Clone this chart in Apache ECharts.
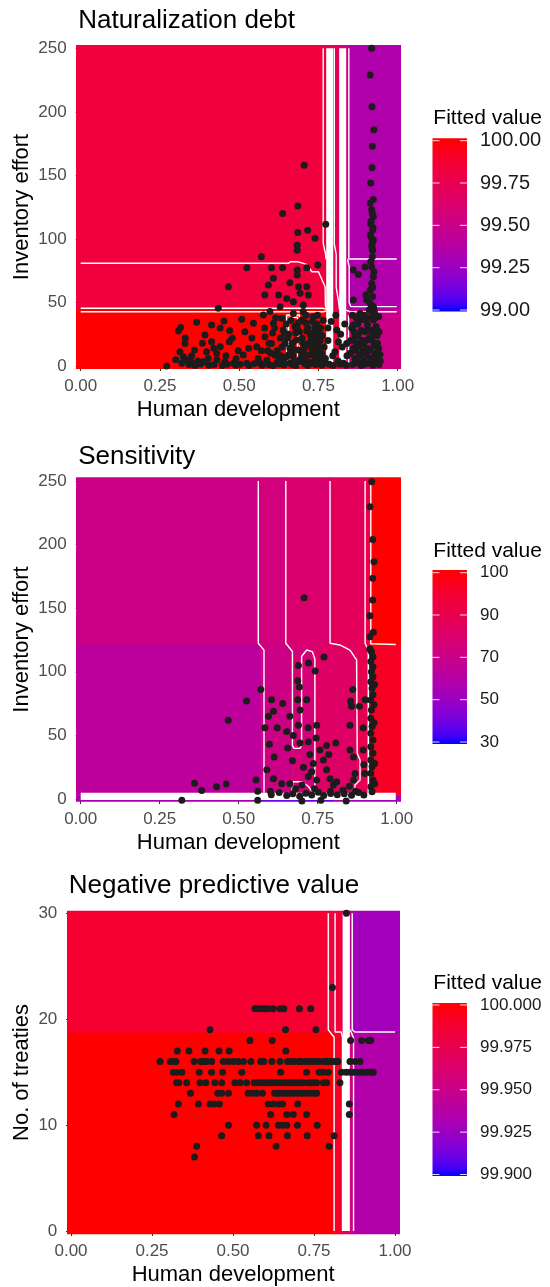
<!DOCTYPE html>
<html><head><meta charset="utf-8">
<script src="https://cdn.jsdelivr.net/npm/echarts@6/dist/echarts.min.js"></script>
<style>html,body{margin:0;padding:0;background:#fff}#c{width:550px;height:1287px}</style>
</head><body><div id="c"></div>
<script>
// ---------------- text ----------------
const panelTitles = ['Naturalization debt', 'Sensitivity', 'Negative predictive value'];
const xAxisTitle = 'Human development';
const yAxisTitles = ['Inventory effort', 'Inventory effort', 'No. of treaties'];
const legendTitle = 'Fitted value';

// ---------------- ticks ----------------
const xTicks = [0, 0.25, 0.5, 0.75, 1];
const yTicksEffort = [0, 50, 100, 150, 200, 250];
const yTicksTreaties = [0, 10, 20, 30];

// legend breaks (evenly spaced along the colour bar) and labels
const ndBreaks = [99, 99.25, 99.5, 99.75, 100];
const ndLabels = ['99.00', '99.25', '99.50', '99.75', '100.00'];
const seBreaks = [30, 50, 70, 90, 100];
const seLabels = ['30', '50', '70', '90', '100'];
const npBreaks = [99.9, 99.925, 99.95, 99.975, 100];
const npLabels = ['99.900', '99.925', '99.950', '99.975', '100.000'];

// ---------------- fitted surfaces: [x0, x1, y0, y1, value] ----------------
const ndTiles = [
  [-0.05, 0.775, 44, 260, 99.83], [-0.05, 0.775, -10, 44, 100],
  [0.775, 0.797, 44, 260, 99.78], [0.775, 0.797, -10, 44, 99.95],
  [0.797, 0.816, 44, 260, 99.72], [0.797, 0.816, -10, 44, 99.85],
  [0.816, 0.845, 44, 260, 99.55], [0.816, 0.845, -10, 44, 99.7],
  [0.845, 1.05, 44, 260, 99.35], [0.845, 1.05, -10, 44, 99.5]
];
const seTiles = [
  [-0.05, 0.562, 121, 260, 70], [0.562, 0.649, 121, 260, 74],
  [0.649, 0.789, 121, 260, 79.6], [0.789, 0.9, 121, 260, 86],
  [0.9, 0.918, 121, 260, 91.2], [0.918, 1.05, 121, 260, 100],
  [-0.05, 0.571, 2.5, 121, 63.6], [0.571, 0.67, 2.5, 121, 71.6],
  [0.67, 0.741, 2.5, 121, 76], [0.741, 0.875, 2.5, 121, 82.8],
  [0.875, 0.91, 2.5, 121, 90], [0.91, 1.05, 2.5, 121, 96.8],
  [-0.05, 0.57, -10, 2.5, 55.6], [0.57, 0.8, -10, 2.5, 39.6], [0.8, 1.05, -10, 2.5, 54]
];
const npTiles = [
  [-0.05, 0.797, 18.7, 40, 99.988], [-0.05, 0.812, -5, 18.7, 100],
  [0.797, 0.838, 18.7, 40, 99.984], [0.812, 0.838, -5, 18.7, 99.99],
  [0.838, 0.861, 18.7, 40, 99.96], [0.838, 0.861, -5, 18.7, 99.97],
  [0.861, 0.872, 18.7, 40, 99.945], [0.861, 0.872, -5, 18.7, 99.955],
  [0.872, 1.05, 18.7, 40, 99.928], [0.872, 1.05, -5, 18.7, 99.936]
];

// ---------------- contour lines ----------------
const ndContours = [
  [[0, 80.8], [0.655, 80.8], [0.662, 82], [0.686, 82], [0.713, 80], [0.729, 74.2], [0.75, 74.2], [0.771, 62.4], [0.772, 47], [0.776, 45]],
  [[0, 45.4], [0.765, 45.4], [0.776, 44.6]],
  [[0, 42.7], [0.765, 42.7], [0.776, 43.4]],
  [[0.765, 250], [0.765, 96.5], [0.772, 88.7], [0.774, 84]],
  [[0.65, 0], [0.65, 40.1], [0.69, 40.1], [0.69, 0]],
  [[0.656, 0], [0.656, 38.4], [0.684, 38.4], [0.684, 0]],
  [[0.8, 250], [0.8, 96], [0.806, 88], [0.806, 62], [0.814, 50], [0.816, 45]],
  [[0.846, 250], [0.846, 84.2], [0.997, 84.2]],
  [[0.842, 84], [0.847, 78], [0.847, 50], [0.852, 46.7], [0.997, 46.7]],
  [[0.837, 44], [0.85, 42.7], [0.997, 42.7]],
  [[0.845, 40], [0.845, 0]]
];
const ndBands = [[[0.7855, 250], [0.7855, 0]], [[0.8265, 250], [0.8265, 0]]];

const seContours = [
  [[0.562, 250], [0.562, 122.4], [0.58, 117], [0.58, 5]],
  [[0.649, 250], [0.649, 122.4], [0.67, 116], [0.67, 42], [0.675, 39.8], [0.694, 39.8], [0.699, 42], [0.699, 112], [0.715, 117.1], [0.733, 115.8], [0.741, 110], [0.741, 5]],
  [[0.668, 5], [0.672, 13.6], [0.7, 13.6], [0.72, 10], [0.735, 5]],
  [[0.789, 250], [0.789, 122.4], [0.82, 121.1], [0.852, 117.1], [0.873, 109.3], [0.875, 35.9], [0.884, 30.7], [0.884, 14.9], [0.868, 11], [0.868, 5]],
  [[0.9, 250], [0.9, 122.4], [0.91, 117], [0.91, 5]],
  [[0.918, 250], [0.918, 122], [0.922, 121.5], [0.997, 121.5]]
];
const seBands = [[[0, 2.1], [0.997, 2.1]]];

const npContours = [
  [[0.794, 30], [0.794, 19], [0.812, 18.3], [0.812, 0]],
  [[0.815, 30], [0.815, 18.8], [0.834, 18.8], [0.838, 18.3], [0.838, 0]],
  [[0.868, 30], [0.868, 19], [0.876, 18.8], [1, 18.8]],
  [[0.862, 19], [0.872, 18.2], [0.872, 0]]
];
const npBands = [[[0.8495, 30], [0.8495, 0]]];

// ---------------- observations ----------------
const ndPoints = [
  [0.918,250],[0.913,229],[0.919,204],[0.925,186],[0.92,173],[0.919,156],[0.915,144],[0.923,131],[0.913,128],[0.918,123],
  [0.923,117.5],[0.915,112],[0.921,107],[0.913,103],[0.923,99],[0.918,95],[0.921,91],[0.92,120],[0.916,114],[0.922,109],[0.917,101],[0.92,97],[0.919,93],
  [0.705,158],[0.685,126],[0.637,120],[0.685,105],[0.716,106.8],[0.739,100.5],[0.683,95],[0.683,91],[0.773,111.5],[0.57,86],
  [0.524,77.4],[0.602,77.4],[0.637,77.4],[0.683,75.5],[0.713,77.4],[0.748,79.5],[0.466,62.4],[0.592,63.7],[0.608,69],[0.66,65.6],
  [0.683,71.6],[0.687,62.4],[0.713,62.4],[0.718,55.9],[0.692,57.2],[0.581,55.9],[0.624,55.9],[0.65,53.2],[0.671,50.6],[0.702,48],
  [0.86,75.5],[0.876,72],[0.897,78],[0.918,78],[0.923,70.3],[0.918,65],[0.913,59.8],[0.921,54.6],[0.9,55.9],[0.902,51.9],[0.86,51.9],
  [0.92,86],[0.915,82],[0.925,74],[0.921,62],[0.917,48],[0.925,45],
  [0.308,27.5],[0.315,30.2],[0.329,17.8],[0.313,11.3],[0.324,7.3],[0.334,4.7],[0.319,2.1],[0.271,0],[0.359,12.6],[0.366,34.4],
  [0.387,3.4],[0.392,24.4],[0.397,11.3],[0.413,32.3],[0.413,19.1],[0.429,10],[0.434,45.4],[0.44,15.2],[0.452,35.4],[0.455,3.4],
  [0.469,19.1],[0.482,2.1],[0.508,36.7],[0.513,8.7],[0.524,2.1],[0.545,33.6],[0.555,15.2],[0.566,2.1],[0.576,40.1],[0.581,23.1],
  [0.587,4.7],[0.597,42.8],[0.602,17.8],[0.608,33.6],[0.613,8.7],[0.618,2.1],[0.629,46.7],[0.634,37.5],[0.639,28.3],[0.645,17.8],
  [0.65,7.3],[0.66,2.1],[0.671,41.4],[0.676,31],[0.681,20.5],[0.687,12.6],[0.692,3.4],[0.697,36.2],[0.702,42.8],[0.713,27.5],
  [0.718,17.8],[0.723,8.7],[0.729,2.1],[0.734,38.8],[0.739,30.2],[0.745,23.1],[0.75,15.2],[0.755,6],[0.771,2.1],[0.802,11.3],
  [0.808,28.3],[0.813,19.1],[0.829,2.1],[0.839,17.8],[0.85,10],[0.86,32.3],[0.865,23.1],[0.871,4.7],[0.876,2.1],[0.892,17.8],
  [0.897,27],[0.902,8.7],[0.907,2.1],[0.913,12.6],[0.918,20.5],[0.923,36.2],[0.928,28.3],[0.934,4.7],[0.939,2.1],[0.923,46.7],
  [0.918,42.8],[0.913,49.3],[0.881,41.4],[0.881,36.2],
  [0.62,12],[0.63,22],[0.655,25],[0.66,14],[0.67,8],[0.69,27],[0.7,18],[0.705,10],[0.71,34],[0.725,24],[0.73,13],[0.74,5],
  [0.745,33],[0.75,28],[0.755,20],[0.76,10],[0.765,36],[0.735,16],[0.69,5],[0.64,4],[0.6,10],[0.56,6],[0.53,14],[0.49,6],
  [0.47,28],[0.43,5],[0.35,8],[0.33,22],[0.37,4],[0.3,5],
  [0.855,30],[0.86,14],[0.87,38],[0.875,24],[0.88,8],[0.885,28],[0.89,12],[0.895,40],[0.905,32],[0.91,22],[0.915,6],[0.92,28],
  [0.925,16],[0.93,10],[0.935,24],[0.94,14],[0.945,4],[0.9,20],[0.93,38],[0.91,44],[0.87,18],[0.865,6],
  [0.342,1.2],[0.361,0.4],[0.378,1.6],[0.404,0.6],[0.421,1.1],[0.447,0.3],[0.462,1.4],[0.489,0.5],[0.503,1.3],[0.531,0.4],
  [0.547,1.7],[0.572,0.6],[0.593,1.2],[0.607,0.2],[0.626,1.5],[0.641,0.7],[0.667,1.1],[0.679,0.3],[0.708,1.6],[0.716,0.4],
  [0.742,1.2],[0.761,0.6],[0.784,1.4],[0.797,0.4],[0.818,1.3],[0.838,0.5],[0.858,1.2],[0.884,0.4],[0.896,1.3],[0.922,0.6],[0.941,1.1],
  [0.58,30],[0.59,12],[0.605,26],[0.615,38],[0.625,5],[0.635,15],[0.648,33],[0.652,22],[0.663,36],[0.668,18],[0.674,4],[0.678,26],
  [0.686,34],[0.694,12],[0.699,22],[0.707,5],[0.711,40],[0.716,30],[0.721,3],[0.727,20],[0.731,35],[0.736,9],[0.742,18],[0.747,40],
  [0.752,10],[0.757,30],[0.762,24],[0.768,15],[0.772,6],[0.758,3],[0.744,13],[0.733,26],[0.709,15],[0.697,8],[0.683,30],[0.672,13],
  [0.657,9],[0.643,26],[0.631,8],[0.611,30],[0.594,18],[0.57,12],[0.54,22],[0.518,27],[0.497,12],[0.478,22],[0.458,8],[0.44,30],
  [0.42,14],[0.402,6],[0.384,18],[0.349,3],
  [0.852,20],[0.857,40],[0.862,27],[0.868,12],[0.874,33],[0.879,16],[0.887,20],[0.893,4],[0.9,36],[0.904,14],[0.908,28],[0.912,38],
  [0.917,2],[0.921,24],[0.927,8],[0.932,31],[0.936,18],[0.941,27],[0.944,9],[0.94,39],[0.927,42],
  [0.78,20],[0.79,35],[0.795,8],[0.805,40],[0.812,4],[0.82,25],[0.825,15],[0.833,33],[0.84,8],[0.78,30]
];

const sePoints = [
  [0.707,158.3],[0.921,249.5],[0.915,229.8],[0.924,204],[0.928,186.6],[0.924,173.5],[0.924,156.4],[0.915,144],[0.926,131],[0.915,127.6],
  [0.92,115.8],[0.925,111.9],[0.918,108],[0.925,104],[0.92,100],[0.925,96.2],[0.918,92.2],[0.922,87],[0.918,77.8],[0.92,70],
  [0.918,63.4],[0.922,56.9],[0.918,51.6],[0.925,46.4],[0.918,41.1],[0.925,35.9],[0.918,30.7],[0.922,25.4],[0.918,20.2],[0.925,14.9],
  [0.918,9.7],[0.922,5.8],[0.925,82],[0.915,118],
  [0.689,105],[0.721,107],[0.742,100.6],[0.77,111.6],[0.687,93],[0.692,88],[0.57,86],[0.525,77],[0.604,78],[0.639,75],
  [0.687,78],[0.715,78],[0.467,62],[0.594,65],[0.61,69],[0.662,65],[0.694,70],[0.689,58],[0.72,56],[0.747,58],
  [0.622,56],[0.583,56],[0.652,53],[0.673,50],[0.597,43],[0.694,44],[0.72,45],[0.778,42],[0.807,44],[0.852,58],
  [0.861,86],[0.854,77],[0.857,73],[0.882,73],[0.9,78],[0.894,56],[0.852,38.5],[0.863,33],[0.868,20],[0.863,15],
  [0.894,38.5],[0.896,27],[0.899,20],[0.612,33],[0.589,23],[0.555,15],[0.61,16],[0.636,12],[0.662,12],[0.725,35],
  [0.736,28],[0.731,21.5],[0.747,15],[0.757,38.5],[0.768,30.7],[0.778,23],[0.789,16],[0.8,11],[0.81,13.6],[0.83,7],
  [0.705,25],[0.72,17.6],[0.7,11],[0.36,12.3],[0.383,6.6],[0.43,9.7],[0.46,11.8],[0.56,6],[0.6,6],[0.32,-1],
  [0.56,-1],[0.7,-1.5],[0.76,-1],[0.84,-1.5],[0.68,8],[0.74,8],[0.79,6],[0.87,6],[0.85,10],[0.655,40],
  [0.67,30],[0.745,48],[0.785,35],[0.928,60],[0.928,74],[0.93,90],[0.93,28],[0.93,12],
  [0.603,3.4],[0.628,5.2],[0.652,2.8],[0.671,4.1],[0.693,2.2],[0.712,4.6],[0.731,3.1],[0.752,5.4],[0.769,2.7],[0.791,4.4],
  [0.812,3.3],[0.834,4.2],[0.857,2.9],[0.879,5.1],[0.896,3.2]
];

const npPoints = [
  [0.807,23],
  [0.568,21],[0.578,21],[0.588,21],[0.599,21],[0.609,21],[0.624,21],[0.645,21],[0.657,21],[0.705,21],[0.74,21],
  [0.429,19],[0.662,19],[0.756,19],
  [0.552,18],[0.621,18],[0.863,18],[0.897,18],[0.918,18],[0.925,18],
  [0.328,17],[0.364,17],[0.414,17],[0.457,17],[0.488,17],[0.663,17],
  [0.275,16],[0.306,16],[0.316,16],[0.324,16],[0.38,16],[0.4,16],[0.408,16],[0.419,16],[0.434,16],[0.47,16],[0.486,16],
  [0.501,16],[0.516,16],[0.532,16],[0.555,16],[0.585,16],[0.595,16],[0.62,16],[0.645,16],[0.668,16],[0.68,16],[0.689,16],
  [0.703,16],[0.711,16],[0.724,16],[0.733,16],[0.744,16],[0.756,16],[0.765,16],[0.779,16],[0.787,16],[0.795,16],[0.805,16],
  [0.814,16],[0.823,16],[0.861,16],[0.877,16],[0.892,16],
  [0.316,15],[0.326,15],[0.342,15],[0.396,15],[0.434,15],[0.468,15],[0.527,15],[0.647,15],[0.727,15],[0.766,15],[0.779,15],
  [0.794,15],[0.835,15],[0.849,15],[0.861,15],[0.871,15],[0.882,15],[0.892,15],[0.902,15],[0.913,15],[0.925,15],[0.933,15],
  [0.326,14],[0.333,14],[0.357,14],[0.398,14],[0.416,14],[0.444,14],[0.465,14],[0.506,14],[0.522,14],[0.542,14],[0.565,14],
  [0.575,14],[0.583,14],[0.592,14],[0.601,14],[0.609,14],[0.617,14],[0.63,14],[0.637,14],[0.645,14],[0.657,14],[0.666,14],
  [0.674,14],[0.683,14],[0.691,14],[0.699,14],[0.709,14],[0.717,14],[0.733,14],[0.74,14],[0.748,14],[0.758,14],[0.779,14],
  [0.789,14],[0.83,14],
  [0.369,13],[0.453,13],[0.465,13],[0.486,13],[0.547,13],[0.561,13],[0.573,13],[0.591,13],[0.628,13],[0.637,13],[0.645,13],
  [0.655,13],[0.666,13],[0.676,13],[0.686,13],[0.697,13],[0.707,13],[0.717,13],[0.729,13],[0.74,13],[0.751,13],[0.758,13],
  [0.331,12],[0.393,12],[0.429,12],[0.441,12],[0.458,12],[0.609,12],[0.624,12],[0.64,12],[0.653,12],[0.7,12],[0.859,12],
  [0.318,11],[0.616,11],[0.666,11],[0.686,11],[0.727,11],[0.859,11],
  [0.486,10],[0.573,10],[0.602,10],[0.64,10],[0.653,10],[0.666,10],[0.699,10],[0.76,10],
  [0.465,9],[0.578,9],[0.611,9],[0.668,9],[0.729,9],[0.812,9],
  [0.388,8],[0.633,8],[0.797,8],
  [0.381,7],
  [0.85,30]
];

// ---------------- colour scale (ggplot gradient blue -> red, Lab interpolation) ----------------
const FONT = '"Liberation Sans", Arial, sans-serif';
function lin(c){c/=255;return c<=0.04045?c/12.92:Math.pow((c+0.055)/1.055,2.4);}
function gam(c){c=Math.max(0,Math.min(1,c));return Math.round(255*(c<=0.0031308?12.92*c:1.055*Math.pow(c,1/2.4)-0.055));}
const WX=0.95047, WZ=1.08883;
function toLab(r,g,b){
  const R=lin(r),G=lin(g),B=lin(b);
  const X=0.4124564*R+0.3575761*G+0.1804375*B, Y=0.2126729*R+0.7151522*G+0.0721750*B, Z=0.0193339*R+0.1191920*G+0.9503041*B;
  const f=t=>t>0.008856?Math.cbrt(t):(7.787*t+16/116);
  const fx=f(X/WX), fy=f(Y), fz=f(Z/WZ);
  return [116*fy-16, 500*(fx-fy), 200*(fy-fz)];
}
function fromLab(L,a,b){
  const fy=(L+16)/116, fx=fy+a/500, fz=fy-b/200;
  const fi=t=>t*t*t>0.008856?t*t*t:(t-16/116)/7.787;
  const X=WX*fi(fx), Y=fi(fy), Z=WZ*fi(fz);
  const R=3.2404542*X-1.5371385*Y-0.4985314*Z, G=-0.9692660*X+1.8760108*Y+0.0415560*Z, B=0.0556434*X-0.2040259*Y+1.0572252*Z;
  return 'rgb('+gam(R)+','+gam(G)+','+gam(B)+')';
}
const LO=toLab(0,0,255), HI=toLab(255,0,0);
function gradColor(p){p=Math.max(0,Math.min(1,p));return fromLab(LO[0]+(HI[0]-LO[0])*p, LO[1]+(HI[1]-LO[1])*p, LO[2]+(HI[2]-LO[2])*p);}
function posOn(v, br){
  const n=br.length-1;
  if(v<=br[0]) return 0; if(v>=br[n]) return 1;
  for(let i=0;i<n;i++){ if(v<=br[i+1]) return (i+(v-br[i])/(br[i+1]-br[i]))/n; }
  return 1;
}

// ---------------- layout ----------------
const panels = [
  {grid:{left:76.7, top:45, width:323.3, height:324}, xr:[-0.0126,1.0073], yr:[-2.36,252.6], yTicks:yTicksEffort, titleY:20.5,
   tiles:ndTiles, contours:ndContours, bands:ndBands, bandW:7, points:ndPoints, breaks:ndBreaks, labels:ndLabels,
   leg:{titleY:118.4, barTop:138.3, barBot:311.5, tTop:140.7, tBot:310, fs:20}},
  {grid:{left:76.7, top:477.3, width:323.3, height:324.4}, xr:[-0.0127,1.0104], yr:[-2.12,252.9], yTicks:yTicksEffort, titleY:457,
   tiles:seTiles, contours:seContours, bands:seBands, bandW:7.3, points:sePoints, breaks:seBreaks, labels:seLabels,
   leg:{titleY:551, barTop:570, barBot:744, tTop:572.7, tBot:742, fs:17}},
  {grid:{left:67.3, top:910.7, width:331.7, height:323.6}, xr:[-0.0114,1.0123], yr:[-0.31,30.25], yTicks:yTicksTreaties, titleY:886.2,
   tiles:npTiles, contours:npContours, bands:npBands, bandW:7.2, points:npPoints, breaks:npBreaks, labels:npLabels,
   leg:{titleY:983, barTop:1003, barBot:1176, tTop:1005, tBot:1174.5, fs:17}}
];

const grids=[], xAxes=[], yAxes=[], series=[], graphics=[];
panels.forEach((P,i)=>{
  grids.push(Object.assign({outerBoundsMode:'none', containLabel:false}, P.grid));
  xAxes.push({type:'value', gridIndex:i, min:P.xr[0], max:P.xr[1], axisLine:{show:false}, splitLine:{show:false},
    axisTick:{show:true, customValues:xTicks, length:5, lineStyle:{color:'#333', width:1}},
    axisLabel:{show:true, customValues:xTicks, formatter:v=>Number(v).toFixed(2), color:'#4d4d4d', fontSize:17, fontFamily:FONT, margin:9}});
  yAxes.push({type:'value', gridIndex:i, min:P.yr[0], max:P.yr[1], axisLine:{show:false}, splitLine:{show:false},
    axisTick:{show:true, customValues:P.yTicks, length:5, lineStyle:{color:'#333', width:1}},
    axisLabel:{show:true, customValues:P.yTicks, formatter:v=>String(Math.round(v)), color:'#4d4d4d', fontSize:17, fontFamily:FONT, margin:10}});
  const br=P.breaks;
  series.push({type:'custom', xAxisIndex:i, yAxisIndex:i, clip:true, silent:true, z:1, animation:false,
    data:P.tiles, encode:{x:[0,1], y:[2,3]},
    renderItem:(params,api)=>{
      const a=api.coord([api.value(0),api.value(3)]), b=api.coord([api.value(1),api.value(2)]);
      const col=gradColor(posOn(api.value(4),br));
      return {type:'rect', shape:{x:a[0], y:a[1], width:b[0]-a[0], height:b[1]-a[1]}, style:{fill:col, stroke:col, lineWidth:0.6}};
    }});
  P.bands.forEach(b=>series.push({type:'line', xAxisIndex:i, yAxisIndex:i, data:b, symbol:'none', silent:true, z:2, animation:false,
    lineStyle:{color:'#ffffff', width:P.bandW, cap:'butt'}}));
  P.contours.forEach(c=>series.push({type:'line', xAxisIndex:i, yAxisIndex:i, data:c, symbol:'none', silent:true, z:3, animation:false,
    lineStyle:{color:'#ffffff', width:1.4}}));
  series.push({type:'scatter', xAxisIndex:i, yAxisIndex:i, data:P.points, symbolSize:7, silent:true, z:4, animation:false,
    itemStyle:{color:'#1c1c1c', opacity:1}});

  const g=P.grid, cx=g.left+g.width/2, cy=g.top+g.height/2;
  graphics.push({type:'text', x:g.left+1.5, y:P.titleY, style:{text:panelTitles[i], fontSize:26, fontFamily:FONT, fill:'#000', align:'left', verticalAlign:'middle'}});
  graphics.push({type:'text', x:cx, y:g.top+g.height+41, style:{text:xAxisTitle, fontSize:22, fontFamily:FONT, fill:'#000', align:'center', verticalAlign:'middle'}});
  graphics.push({type:'text', x:22, y:cy, rotation:Math.PI/2, style:{text:yAxisTitles[i], fontSize:22, fontFamily:FONT, fill:'#000', align:'center', verticalAlign:'middle'}});
  // legend
  const L=P.leg, bx=432.5, bw=34.5;
  graphics.push({type:'text', x:433.3, y:L.titleY, style:{text:legendTitle, fontSize:21, fontFamily:FONT, fill:'#000', align:'left', verticalAlign:'middle'}});
  const stops=[]; const N=24;
  for(let k=0;k<=N;k++){
    const yy=L.barTop+(L.barBot-L.barTop)*k/N; const p=(L.tBot-yy)/(L.tBot-L.tTop);
    stops.push({offset:k/N, color:gradColor(p)});
  }
  graphics.push({type:'rect', shape:{x:bx, y:L.barTop, width:bw, height:L.barBot-L.barTop},
    style:{fill:{type:'linear', x:0, y:0, x2:0, y2:1, colorStops:stops}}});
  br.forEach((v,k)=>{
    const p=k/(br.length-1); const yy=L.tBot-(L.tBot-L.tTop)*p;
    graphics.push({type:'line', shape:{x1:bx, y1:yy, x2:bx+7, y2:yy}, style:{stroke:'rgba(255,255,255,0.85)', lineWidth:1}});
    graphics.push({type:'line', shape:{x1:bx+bw-7, y1:yy, x2:bx+bw, y2:yy}, style:{stroke:'rgba(255,255,255,0.85)', lineWidth:1}});
    graphics.push({type:'text', x:480, y:yy, style:{text:P.labels[k], fontSize:L.fs, fontFamily:FONT, fill:'#1a1a1a', align:'left', verticalAlign:'middle'}});
  });
});

const chart = echarts.init(document.getElementById('c'), null, {renderer:'canvas'});
chart.setOption({animation:false, backgroundColor:'#ffffff', grid:grids, xAxis:xAxes, yAxis:yAxes, series:series, graphic:graphics});
</script></body></html>
